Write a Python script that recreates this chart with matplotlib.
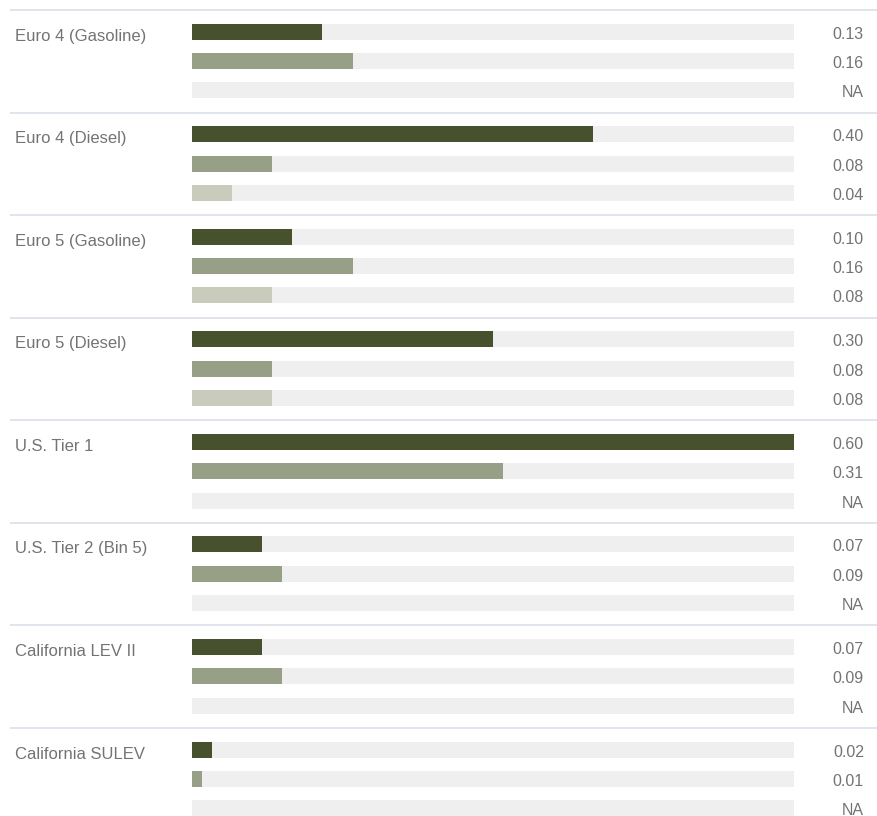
import numpy as np
import matplotlib
matplotlib.use("Agg")
import matplotlib.pyplot as plt

categories = [
    "Euro 4 (Gasoline)", "Euro 4 (Diesel)", "Euro 5 (Gasoline)", "Euro 5 (Diesel)",
    "U.S. Tier 1", "U.S. Tier 2 (Bin 5)", "California LEV II", "California SULEV",
]
series_a = [0.13, 0.40, 0.10, 0.30, 0.60, 0.07, 0.07, 0.02]
series_b = [0.16, 0.08, 0.16, 0.08, 0.31, 0.09, 0.09, 0.01]
series_c = [None, 0.04, 0.08, 0.08, None, None, None, None]
max_value = 0.6

colors = ["#48512d", "#989f87", "#c9cbbd"]
track_color = "#efefef"
text_color = "#737373"
sep_color = "#dde2ea"

W, H = 877, 816
fig = plt.figure(figsize=(W / 100, H / 100), dpi=100)
ax = fig.add_axes([0, 0, 1, 1])
ax.set_axis_off()

# pixel geometry -> data coordinates
x0_px, x1_px = 192, 794
ppx = max_value / (x1_px - x0_px)
ax.set_xlim(-x0_px * ppx, max_value + (W - x1_px) * ppx)
row_px = 29.3
first_px = 31.7
ax.set_ylim((H - first_px) / row_px, -first_px / row_px)

group_step = 3.5
bar_h = 16 / row_px
label_off = 9.0 / row_px
value_off = 7.0 / row_px
plt.rcParams["font.family"] = ["Liberation Sans", "DejaVu Sans"]

def px_x(p):
    return (p - x0_px) * ppx

all_series = [series_a, series_b, series_c]
for g, cat in enumerate(categories):
    base = g * group_step
    sep_y = base - 0.74
    ax.plot([px_x(10), px_x(W)], [sep_y, sep_y], color=sep_color, lw=1.3,
            solid_capstyle="butt")
    ax.text(px_x(15), base + label_off, cat, ha="left", va="baseline",
            fontsize=12, color=text_color)
    for s, values in enumerate(all_series):
        y = base + s
        ax.barh(y, max_value, height=bar_h, left=0, color=track_color, lw=0)
        v = values[g]
        if v is not None:
            ax.barh(y, v, height=bar_h, left=0, color=colors[s], lw=0)
            label = f"{v:.2f}"
        else:
            label = "NA"
        ax.text(px_x(864), y + value_off, label, ha="right", va="baseline",
                fontsize=11.5, color=text_color)

fig.savefig("out.png", dpi=100, facecolor="white")
